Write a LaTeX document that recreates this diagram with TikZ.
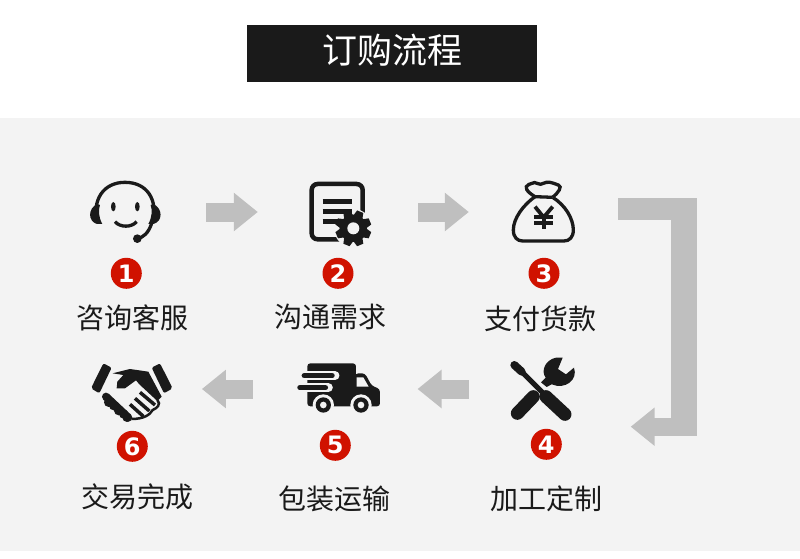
\documentclass[tikz,border=0pt]{standalone}
\usepackage{fontspec}
\setmainfont{Noto Sans CJK SC}
\newfontfamily\badgefont{DejaVu Sans}
\usetikzlibrary{arrows.meta,positioning}
\definecolor{pagegray}{RGB}{243,243,243}
\definecolor{arrowgray}{RGB}{191,191,191}
\definecolor{inkblack}{RGB}{26,26,26}
\definecolor{badgered}{RGB}{208,18,0}
\tikzstyle{titlebar} = [rectangle, fill=inkblack, text=white, minimum width=290pt, minimum height=57pt, inner sep=0pt, font=\fontsize{35}{35}\selectfont]
\tikzstyle{iconbox} = [rectangle, minimum height=60pt, inner sep=0pt]
\tikzstyle{badge} = [circle, fill=badgered, text=white, minimum size=31pt, inner sep=0pt, font=\badgefont\bfseries\fontsize{24}{24}\selectfont]
\tikzstyle{steplabel} = [text=inkblack, inner sep=0pt, font=\fontsize{28}{28}\selectfont]
\tikzstyle{flowarrow} = [line width=19pt, color=arrowgray, -{Triangle[length=24pt,width=37pt]}]
\tikzstyle{inkline} = [color=inkblack, line width=3.3pt]

\begin{document}
\begin{tikzpicture}[x=1pt, y=-1pt]
\useasboundingbox (0,0) rectangle (800,559);
\fill[white] (0,0) rectangle (800,559);
\fill[pagegray] (0,118) rectangle (800,551);

% Title
\node (title) [titlebar] at (392,53.5) {\raisebox{10pt}{订购流程}};

% Top row
\node (kefu) [iconbox, minimum width=160pt] at (126,212) {};
\node (goutong) [iconbox, minimum width=160pt] at (338,212) {};
\node (zhifu) [iconbox, minimum width=148pt] at (543,212) {};
\node (badgeone) [badge] at (126.3,273.3) {1};
\node (badgetwo) [badge] at (338,273.3) {2};
\node (badgethree) [badge] at (544,273.3) {3};
\node (labelkefu) [steplabel] at (132.7,318) {咨询客服};
\node (labelgoutong) [steplabel] at (330,316.5) {沟通需求};
\node (labelzhifu) [steplabel] at (540,319) {支付货款};

% Bottom row
\node (jiagong) [iconbox, minimum width=144.6pt] at (541,389) {};
\node (baozhuang) [iconbox, minimum width=164.3pt] at (335.2,389) {};
\node (jiaoyi) [iconbox, minimum width=139.4pt] at (132,389) {};
\node (badgefour) [badge] at (546.3,444.3) {4};
\node (badgefive) [badge] at (335.3,445.3) {5};
\node (badgesix) [badge] at (132.3,446.3) {6};
\node (labeljiagong) [steplabel] at (546,499) {加工定制};
\node (labelbaozhuang) [steplabel] at (334,499) {包装运输};
\node (labeljiaoyi) [steplabel] at (137,497) {交易完成};

% Arrows
\draw[flowarrow] (kefu.east) -- (goutong.west);
\draw[flowarrow] (goutong.east) -- (zhifu.west);
\draw[flowarrow] (jiagong.west) -- (baozhuang.east);
\draw[flowarrow] (baozhuang.west) -- (jiaoyi.east);

% Bent arrow
\coordinate (bendstart) at (618,209);
\coordinate (bendtop) at (696.7,209);
\coordinate (benddown) at (684,198);
\coordinate (bendlow) at (684,435.7);
\coordinate (bendright) at (696.7,426.7);
\coordinate (bendend) at (630.7,426.7);
\draw[arrowgray, line width=22pt] (bendstart) -- (bendtop);
\draw[arrowgray, line width=25.7pt] (benddown) -- (bendlow);
\draw[flowarrow, line width=18pt] (bendright) -- (bendend);

% Headset
\begin{scope}[shift={(60,160)}, x=.3333pt, y=-.3333pt]
\draw[inkline] (112,190) .. controls (95,120) and (130,67) .. (195,67) .. controls (262,67) and (295,120) .. (278,190);
\fill[inkblack] (112,132) .. controls (83,145) and (83,185) .. (112,192) -- (127,192) .. controls (115,170) and (115,150) .. (120,135) -- cycle;
\fill[inkblack] (280,132) .. controls (309,145) and (309,185) .. (280,192) -- (265,192) .. controls (277,170) and (277,150) .. (272,135) -- cycle;
\draw[inkline] (275,190) .. controls (265,220) and (250,232) .. (232,236);
\fill[inkblack] (232,236) circle (13);
\fill[inkblack] (160,140) ellipse (7 and 14);
\fill[inkblack] (232,140) ellipse (7 and 14);
\draw[inkline] (165,185) .. controls (180,203) and (215,203) .. (230,185);
\end{scope}

% Document with gear
\begin{scope}[shift={(280,160)}, x=.3333pt, y=-.3333pt]
\draw[inkline, line width=4.5pt, rounded corners=6pt] (95,72) rectangle (248,238);
\fill[pagegray] (220,205) circle (58);
\draw[inkline, line width=4.8pt] (128,125) -- (215,125);
\draw[inkline, line width=4.8pt] (128,155) -- (215,155);
\draw[inkline, line width=4.8pt] (128,185) -- (185,185);
\foreach \a in {0,45,...,315}
  \fill[inkblack, rotate around={\a+22.5:(220,205)}] (210,151) -- (230,151) -- (236,175) -- (204,175) -- cycle;
\fill[inkblack] (220,205) circle (41);
\fill[pagegray] (220,205) circle (18);
\end{scope}

% Money bag
\begin{scope}[shift={(490,160)}, x=.3333pt, y=-.3333pt]
\draw[inkline, rounded corners=3pt] (135,110) .. controls (110,95) and (100,80) .. (125,70) .. controls (140,66) and (145,75) .. (160,70) .. controls (175,65) and (185,68) .. (197,72) .. controls (218,80) and (205,98) .. (188,112);
\draw[inkline] (135,110) -- (188,112);
\draw[inkline] (188,112) .. controls (225,135) and (250,175) .. (250,210) .. controls (250,232) and (238,243) .. (222,243) -- (98,243) .. controls (82,243) and (70,232) .. (70,210) .. controls (70,175) and (100,135) .. (135,110);
\draw[inkline, line width=3.8pt] (135,140) -- (161,172) -- (188,140);
\draw[inkline, line width=3.8pt] (161,172) -- (161,208);
\draw[inkline, line width=3.8pt] (132,170) -- (190,170);
\draw[inkline, line width=3.8pt] (132,190) -- (190,190);
\end{scope}

% Tools
\begin{scope}[shift={(480,345)}, x=.3333pt, y=-.3333pt]
% wrench
\fill[inkblack] (228,38) .. controls (195,45) and (182,78) .. (197,98) -- (183,112) -- (200,126) -- (215,118) .. controls (255,135) and (295,105) .. (282,68) -- (258,88) -- (234,72) -- (248,38) -- cycle;
\draw[inkblack, line width=13pt, line cap=round] (112,205) -- (160,155);
% screwdriver
\draw[inkblack, line width=8pt, line cap=round] (103,60) -- (125,80);
\draw[inkblack, line width=5pt] (120,75) -- (190,145);
\draw[inkblack, line width=13pt, line cap=round] (198,155) -- (255,208);
\end{scope}

% Truck
\begin{scope}[shift={(280,345)}, x=.3333pt, y=-.3333pt]
\fill[inkblack, rounded corners=3pt] (82,55) rectangle (228,184);
\fill[inkblack, rounded corners=3pt] (226,85) -- (255,85) -- (275,122) -- (300,132) -- (300,184) -- (226,184) -- cycle;
\fill[pagegray] (230,97) -- (250,97) -- (266,125) -- (230,125) -- cycle;
\draw[pagegray, line width=9pt, line cap=round] (60,92) -- (165,92);
\draw[pagegray, line width=9pt, line cap=round] (50,128) -- (145,128);
\draw[inkblack, line width=5.5pt, line cap=round] (73,92) -- (156,92);
\draw[inkblack, line width=5.5pt, line cap=round] (60,128) -- (136,128);
\foreach \cx in {130,243} {
  \fill[pagegray] (\cx,180) circle (32);
  \fill[inkblack] (\cx,180) circle (23);
  \fill[pagegray] (\cx,180) circle (10);
}
\end{scope}

% Handshake
\begin{scope}[shift={(60,345)}, x=.3333pt, y=-.3333pt]
\fill[inkblack, rounded corners=2pt] (130,55) -- (155,68) -- (118,145) -- (93,130) -- cycle;
\fill[inkblack, rounded corners=2pt] (275,68) -- (300,55) -- (338,130) -- (312,145) -- cycle;
\fill[inkblack] (158,85) -- (210,72) -- (265,80) -- (305,155) -- (292,168) -- (238,118) -- (228,106) -- (195,130) -- (170,130) -- (172,110) -- (190,90) -- cycle;
\draw[inkline, line width=2.5pt] (292,165) .. controls (305,178) and (290,190) .. (278,195) .. controls (270,210) and (250,222) .. (215,222);
\draw[inkline, line width=3.5pt] (240,142) -- (285,180);
\draw[inkline, line width=3.5pt] (225,160) -- (268,198);
\draw[inkline, line width=3.5pt] (210,178) -- (250,214);
\draw[inkblack, line width=8pt, line cap=round] (138,155) -- (205,218);
\foreach \bx/\by in {150/170,165/180,180/195,195/205,205/215}
  \fill[inkblack] (\bx-4,\by+2) circle (14);
\end{scope}
\end{tikzpicture}
\end{document}
